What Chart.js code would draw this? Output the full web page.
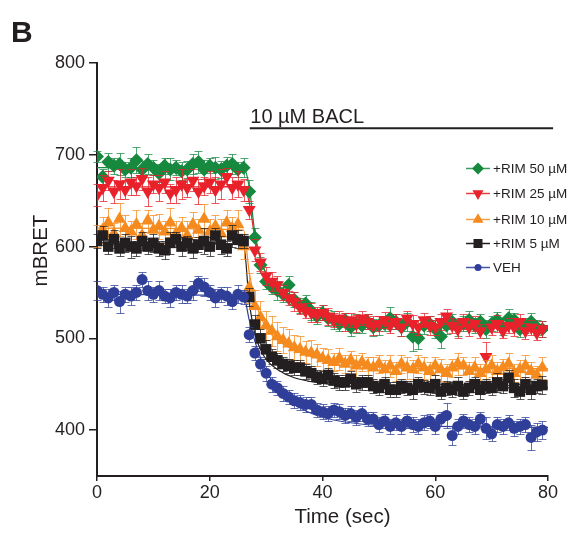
<!DOCTYPE html>
<html><head><meta charset="utf-8">
<script src="https://cdn.jsdelivr.net/npm/chart.js@4/dist/chart.umd.min.js"></script>
<style>html,body{margin:0;padding:0;background:#fff}</style>
</head><body>
<canvas id="c" width="571" height="537"></canvas>
<script>
// ---- data ----
const time = [0,1,2,3,4,5,6,7,8,9,10,11,12,13,14,15,16,17,18,19,20,21,22,23,24,25,26,27,28,29,30,31,32,33,34,35,36,37,38,39,40,41,42,43,44,45,46,47,48,49,50,51,52,53,54,55,56,57,58,59,60,61,62,63,64,65,66,67,68,69,70,71,72,73,74,75,76,77,78,79];

const rim50 = [698,676,692,688,690,684,686,694,684,690,686,680,688,684,686,682,684,690,692,684,688,686,684,688,690,684,686,660,610,580,562,556,552,548,558,542,536,538,530,524,528,522,520,516,520,512,516,514,518,512,514,516,522,518,512,518,502,500,514,516,510,502,514,518,512,516,520,514,518,510,516,520,512,522,520,510,514,518,512,510];
const rim50Err = [6,8,10,9,12,8,10,14,9,11,8,10,9,12,8,10,9,11,12,10,8,12,9,10,11,8,10,12,10,9,8,8,10,8,10,8,8,9,10,8,8,9,10,8,8,9,10,8,8,9,10,8,12,8,9,10,16,12,9,8,10,12,9,8,9,8,10,8,9,10,8,9,8,10,8,9,8,10,8,9];

const rim25 = [656,664,672,660,668,662,670,666,674,660,668,664,670,658,662,668,664,672,660,666,670,662,668,676,664,668,662,640,596,583,568,562,558,550,544,540,534,530,528,526,528,524,520,522,518,520,516,522,518,514,516,520,514,518,512,522,516,512,520,514,512,518,524,514,510,518,512,516,508,480,512,516,508,514,512,518,508,512,506,510];
const rim25Err = [12,14,10,12,16,10,14,10,12,16,10,14,12,10,14,16,10,12,14,10,12,14,16,10,12,14,12,10,12,10,10,10,10,8,8,10,8,8,10,8,8,9,8,8,10,8,9,8,8,10,8,9,8,8,10,8,9,8,8,10,8,9,8,8,10,8,9,8,8,16,8,9,8,8,10,8,9,8,8,9];

const rim10 = [612,618,626,614,630,620,616,624,612,628,618,622,616,626,614,620,612,624,618,630,616,622,614,626,620,624,600,555,535,523,514,508,502,498,494,490,488,485,484,482,478,476,474,478,472,476,470,474,470,468,472,466,470,464,472,468,466,472,468,464,470,466,462,468,472,470,464,468,462,466,470,464,468,472,462,466,470,464,460,468];
const rim10Err = [12,14,16,12,18,14,12,16,14,12,16,14,12,16,14,12,16,14,12,16,14,12,16,14,12,16,14,16,18,18,16,16,16,14,16,14,14,12,14,12,12,12,10,12,10,10,12,10,10,12,10,10,12,10,10,12,10,10,12,10,10,12,10,10,12,10,10,12,10,10,12,10,10,12,10,10,12,10,10,12];

const rim5 = [606,612,600,608,598,604,600,598,606,600,604,598,596,604,608,600,604,598,602,606,600,612,602,598,612,608,606,545,515,500,488,480,476,472,470,468,468,464,462,458,456,460,454,452,452,456,450,452,452,448,446,450,444,444,448,446,444,450,447,446,450,442,446,444,448,442,446,450,444,448,446,452,448,457,446,442,450,444,448,449];
const rim5Err = [8,10,8,10,8,10,12,8,10,8,10,8,10,12,8,10,8,10,8,14,10,8,10,8,12,10,8,10,10,10,10,8,8,8,8,8,8,8,8,8,8,8,8,8,8,8,8,8,8,8,8,8,8,8,8,8,10,8,8,8,10,8,8,8,10,8,8,8,10,8,8,10,8,8,10,8,8,10,8,10];

const veh = [552,548,544,550,540,548,546,550,564,552,548,552,546,544,550,548,546,552,560,556,550,544,548,546,540,548,545,504,484,472,462,450,446,440,436,432,430,428,428,422,420,418,422,420,416,418,414,418,412,412,406,410,404,408,404,410,406,404,408,410,404,412,416,394,404,410,406,404,412,402,396,406,404,408,402,404,406,392,398,400];
const vehErr = [10,8,10,8,12,8,10,8,8,10,8,10,8,10,8,10,8,10,8,10,8,10,8,10,8,10,8,8,8,8,8,8,8,8,8,8,8,8,8,8,8,8,8,8,8,8,8,8,8,8,8,8,8,8,8,8,8,8,8,8,8,8,14,10,8,8,8,8,8,12,8,8,8,8,8,8,8,14,10,10];

// fitted curves
const fitTime = [0,26,27,28,29,30,32,35,40,45,50,60,80];
const fit50 = [686,686,665,615,588,570,550,534,522,517,514,513,512];
const fit25 = [665,665,648,610,586,570,552,537,525,519,516,514,514];
const fit10 = [620,618,572,542,524,512,498,487,477,472,469,467,467];
const fit5  = [604,602,540,505,488,477,466,457,451,448,447,446,446];
const fitVeh= [548,546,520,497,479,465,445,428,414,408,405,404,403];

// BACL application bar
const baclTime = [27.1, 80.9];
const baclLevel = 729;
const baclLabel = '10 µM BACL';

const seriesNames = ['+RIM 50 µM','+RIM 25 µM','+RIM 10 µM','+RIM 5 µM','VEH'];
const xTicks = [0,20,40,60,80];
const yTicks = [400,500,600,700,800];

// ---- styling ----
const FONT = "'Liberation Sans', Arial, sans-serif";
const INK = '#231f20';
const C = {g:'#16893f', r:'#e8212b', o:'#f58b1f', k:'#231f20', b:'#2f3f99'};
const LEG = ['#3a9f5a', '#ec3b40', '#f7a04a', '#231f20', '#4455a8'];

const pts = (xs, ys) => xs.map((x,i)=>({x:x, y:ys[i]}));

function series(label, ys, err, color, style, radius, rot, order){
  return {label, data: pts(time, ys), err, errColor: color, showLine:false,
    pointStyle: style, pointRadius: radius, pointRotation: rot||0, pointBorderWidth: 0,
    pointBackgroundColor: color, pointBorderColor: color, backgroundColor: color, borderColor: color,
    order};
}
function fit(ys, color){
  return {data: pts(fitTime, ys), borderColor: color, borderWidth: 1.2, pointRadius: 0,
    cubicInterpolationMode: 'monotone', fill:false, order: 10};
}

const datasets = [
  fit(fit50, C.g), fit(fit25, C.r), fit(fit10, C.o), fit(fit5, C.k), fit(fitVeh, C.b),
  series(seriesNames[0], rim50, rim50Err, C.g, 'rectRot', 7, 0, 6),
  series(seriesNames[1], rim25, rim25Err, C.r, 'triangle', 7.5, 180, 5),
  series(seriesNames[2], rim10, rim10Err, C.o, 'triangle', 7.5, 0, 4),
  series(seriesNames[3], rim5, rim5Err, C.k, 'rect', 7.5, 0, 3),
  series(seriesNames[4], veh, vehErr, C.b, 'circle', 5.5, 0, 2),
  {data: baclTime.map(x=>({x, y: baclLevel})), borderColor: INK, borderWidth: 2, pointRadius: 0, clip: false, order: 1}
];

const errPlugin = {
  id: 'errbars',
  beforeDatasetDraw(chart, args){
    const ds = chart.data.datasets[args.index];
    if (!ds.err) return;
    const ys = chart.scales.y, ctx = chart.ctx;
    ctx.save();
    ctx.strokeStyle = ds.errColor; ctx.lineWidth = 1; ctx.globalAlpha = 0.75;
    args.meta.data.forEach((p, i) => {
      const v = ds.data[i].y, e = ds.err[i];
      if (e == null) return;
      const x = Math.round(p.x) + 0.5;
      const y1 = Math.round(ys.getPixelForValue(v + e)) + 0.5;
      const y2 = Math.round(ys.getPixelForValue(v - e)) + 0.5;
      ctx.beginPath();
      ctx.moveTo(x, y1); ctx.lineTo(x, y2);
      ctx.moveTo(x - 4, y1); ctx.lineTo(x + 4, y1);
      ctx.moveTo(x - 4, y2); ctx.lineTo(x + 4, y2);
      ctx.stroke();
    });
    ctx.restore();
  }
};

const decorPlugin = {
  id: 'decor',
  afterDraw(chart){
    const ctx = chart.ctx, xs = chart.scales.x, ys = chart.scales.y;
    ctx.save();
    ctx.fillStyle = INK;
    // panel letter
    ctx.font = 'bold 30px ' + FONT;
    ctx.textAlign = 'left'; ctx.textBaseline = 'alphabetic';
    ctx.fillText('B', 11, 42);
    // BACL label
    ctx.font = '20px ' + FONT;
    ctx.fillText(baclLabel, xs.getPixelForValue(baclTime[0]) + 0.5, ys.getPixelForValue(baclLevel) - 5);
    // axis titles
    ctx.font = '20.5px ' + FONT;
    ctx.textAlign = 'center';
    ctx.fillText('Time (sec)', 342.5, 523);
    ctx.save();
    ctx.translate(47, 250.5);
    ctx.rotate(-Math.PI/2);
    ctx.fillText('mBRET', 0, 0);
    ctx.restore();
    // legend
    const rows = [168, 193, 219, 243, 267];
    const items = chart.data.datasets.filter(d => d.label);
    ctx.font = '13.5px ' + FONT;
    ctx.textAlign = 'left'; ctx.textBaseline = 'middle';
    items.forEach((d, i) => {
      const y = rows[i];
      ctx.strokeStyle = LEG[i]; ctx.lineWidth = 1.5;
      ctx.beginPath(); ctx.moveTo(466, y + 0.5); ctx.lineTo(490, y + 0.5); ctx.stroke();
      ctx.fillStyle = d.errColor; ctx.strokeStyle = d.errColor;
      Chart.helpers.drawPoint(ctx, {pointStyle: d.pointStyle, rotation: d.pointRotation, borderWidth: 0,
        radius: i === 4 ? 3.5 : d.pointRadius * 0.85}, 478, y + 0.5);
      ctx.fillStyle = INK;
      ctx.fillText(d.label, 493, y + 1);
    });
    ctx.restore();
  }
};

new Chart(document.getElementById('c'), {
  type: 'line',
  data: {datasets},
  options: {
    responsive: false, animation: false, devicePixelRatio: 1,
    layout: {padding: {top: 63, right: 23, bottom: 0, left: 0}},
    plugins: {legend: {display: false}, tooltip: {enabled: false}},
    scales: {
      x: {type: 'linear', min: 0, max: 80,
        afterFit: s => { s.height = 61; },
        afterBuildTicks: s => { s.ticks = xTicks.map(v => ({value: v})); },
        ticks: {font: {family: FONT, size: 18}, color: INK, padding: 1, maxRotation: 0},
        grid: {drawOnChartArea: false, drawTicks: true, tickLength: 5, color: INK, lineWidth: 1.5},
        border: {display: true, color: INK, width: 2}},
      y: {type: 'linear', min: 350, max: 800,
        afterFit: s => { s.width = 97; },
        afterBuildTicks: s => { s.ticks = yTicks.map(v => ({value: v})); },
        ticks: {font: {family: FONT, size: 18}, color: INK, padding: 4},
        grid: {drawOnChartArea: false, drawTicks: true, tickLength: 8, color: INK, lineWidth: 1.5},
        border: {display: true, color: INK, width: 2}}
    }
  },
  plugins: [errPlugin, decorPlugin]
});
</script>
</body></html>
